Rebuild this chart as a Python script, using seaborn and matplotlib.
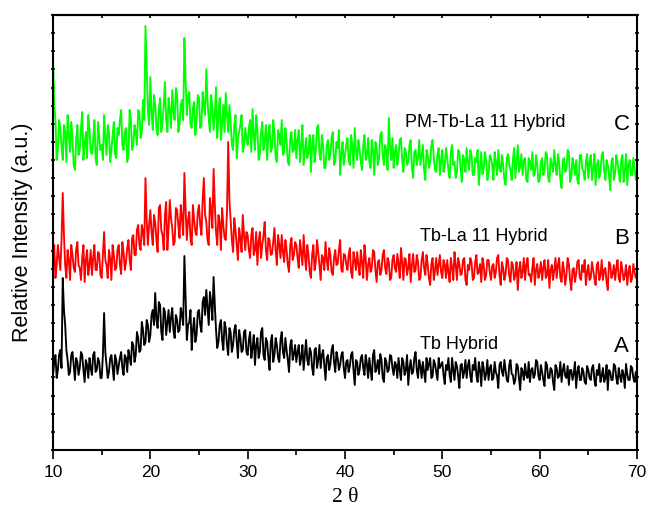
import numpy as np
import pandas as pd
import matplotlib
matplotlib.use("Agg")
import matplotlib.pyplot as plt
from matplotlib.ticker import MultipleLocator
import seaborn as sns

# 2 theta grid: main points every 0.25, extra points read in between (x + 0.125)
two_theta = np.arange(10, 70.001, 0.25)
two_theta_mid = two_theta[:-1] + 0.125

# C : PM-Tb-La 11 Hybrid (green)
int_c = [
    395, 330, 300, 322, 290, 318, 335, 298, 312, 280, 325, 300, 338, 305, 292, 320, 296, 330, 285, 312,
    305, 335, 295, 318, 300, 328, 292, 315, 340, 300, 322, 296, 330, 305, 318, 340, 312, 350, 424, 340,
    373, 320, 345, 315, 352, 328, 368, 318, 340, 360, 330, 355, 325, 350, 412, 335, 358, 322, 348, 330,
    352, 325, 345, 381, 330, 355, 320, 363, 335, 310, 345, 357, 318, 328, 300, 335, 310, 325, 298, 322,
    305, 330, 341, 300, 320, 295, 328, 310, 290, 325, 302, 318, 288, 315, 330, 298, 310, 285, 318, 300,
    292, 320, 305, 285, 312, 298, 278, 315, 300, 325, 290, 305, 282, 310, 296, 318, 288, 302, 275, 308,
    295, 312, 285, 305, 322, 290, 300, 280, 315, 295, 288, 310, 275, 302, 292, 318, 285, 300, 332, 290,
    282, 305, 295, 312, 278, 298, 288, 310, 272, 300, 292, 285, 305, 270, 295, 288, 310, 280, 296, 275,
    300, 285, 292, 272, 305, 288, 278, 298, 268, 290, 302, 280, 295, 275, 288, 265, 298, 282, 290, 276,
    292, 270, 288, 300, 278, 285, 265, 296, 280, 290, 272, 305, 284, 275, 292, 268, 288, 298, 276, 285,
    270, 292, 280, 296, 268, 285, 300, 275, 288, 262, 292, 280, 298, 272, 285, 290, 266, 295, 278, 288,
    272, 295, 282, 265, 290, 278, 298, 270, 285, 260, 292, 276, 288, 268, 295, 280, 265, 290, 275, 282,
    280,
]
int_c_mid = [
    345, 290, 330, 305, 325, 288, 315, 328, 285, 310, 295, 322, 290, 318, 335, 298, 310, 292, 328, 300,
    290, 312, 325, 288, 315, 296, 322, 330, 305, 318, 288, 340, 300, 325, 305, 338, 318, 330, 380, 325,
    338, 355, 322, 340, 318, 345, 330, 352, 322, 338, 362, 318, 345, 330, 370, 352, 325, 342, 315, 355,
    322, 358, 335, 350, 318, 342, 335, 312, 352, 328, 318, 335, 345, 305, 325, 292, 318, 335, 305, 312,
    322, 298, 315, 335, 290, 318, 300, 325, 315, 298, 330, 292, 320, 305, 295, 322, 288, 312, 298, 320,
    310, 288, 325, 298, 292, 315, 305, 288, 322, 296, 315, 282, 305, 290, 312, 285, 308, 320, 296, 285,
    305, 290, 315, 282, 300, 310, 288, 305, 290, 312, 282, 300, 308, 285, 315, 295, 305, 280, 305, 312,
    298, 285, 310, 290, 302, 285, 305, 282, 298, 285, 310, 295, 280, 300, 282, 305, 292, 278, 302, 290,
    278, 302, 280, 298, 285, 272, 300, 282, 295, 278, 288, 300, 275, 292, 300, 282, 276, 298, 270, 295,
    285, 298, 275, 282, 295, 270, 292, 285, 270, 302, 288, 278, 296, 290, 270, 292, 280, 274, 295, 268,
    288, 275, 298, 272, 292, 278, 285, 296, 270, 290, 278, 300, 268, 292, 275, 270, 295, 282, 270, 296,
    288, 270, 296, 285, 272, 295, 280, 290, 275, 288, 270, 295, 278, 290, 268, 296, 285, 275, 292, 270,
]

# B : Tb-La 11 Hybrid (red)
int_b = [
    190, 172, 205, 180, 257, 185, 200, 170, 195, 178, 208, 182, 192, 168, 200, 185, 175, 205, 180, 196,
    172, 218, 185, 200, 170, 195, 182, 205, 176, 198, 188, 210, 180, 215, 195, 225, 200, 218, 272, 205,
    240, 205, 228, 198, 245, 215, 235, 200, 250, 222, 208, 240, 212, 232, 277, 210, 238, 205, 230, 215,
    245, 215, 272, 228, 205, 240, 281, 218, 235, 200, 225, 210, 308, 230, 198, 220, 190, 212, 235, 200,
    215, 192, 222, 200, 185, 218, 205, 228, 190, 210, 196, 222, 185, 205, 215, 188, 200, 178, 212, 195,
    205, 182, 198, 215, 180, 195, 172, 205, 188, 198, 170, 192, 208, 180, 195, 175, 200, 186, 210, 178,
    195, 180, 202, 172, 190, 198, 175, 188, 205, 170, 192, 182, 198, 168, 190, 180, 200, 176, 188, 172,
    195, 178, 186, 202, 170, 190, 182, 168, 196, 180, 188, 172, 198, 175, 185, 165, 192, 180, 175, 195,
    172, 185, 190, 168, 182, 198, 170, 186, 176, 192, 165, 180, 188, 172, 195, 178, 168, 185, 175, 190,
    170, 186, 178, 195, 165, 182, 176, 190, 168, 185, 175, 160, 188, 178, 170, 192, 176, 182, 165, 186,
    178, 170, 190, 175, 162, 185, 180, 172, 192, 168, 180, 175, 186, 160, 182, 176, 190, 170, 178, 165,
    185, 172, 180, 165, 188, 175, 170, 182, 160, 186, 176, 170, 190, 168, 180, 175, 165, 184, 172, 178,
    175,
]
int_b_mid = [
    205, 185, 192, 210, 215, 172, 190, 205, 182, 200, 185, 170, 205, 190, 175, 200, 192, 180, 198, 175,
    195, 190, 172, 192, 205, 180, 200, 185, 208, 180, 202, 190, 212, 195, 220, 205, 225, 205, 230, 225,
    218, 235, 210, 242, 220, 200, 248, 222, 232, 205, 242, 225, 245, 215, 240, 230, 212, 245, 218, 238,
    225, 250, 235, 210, 252, 222, 245, 205, 228, 242, 212, 238, 250, 210, 232, 205, 222, 198, 215, 218,
    200, 215, 195, 218, 208, 192, 215, 200, 212, 195, 208, 200, 215, 192, 198, 210, 185, 205, 190, 208,
    192, 210, 185, 195, 205, 178, 195, 180, 210, 185, 195, 180, 190, 202, 178, 192, 185, 200, 180, 196,
    186, 195, 178, 198, 180, 185, 200, 172, 192, 185, 178, 200, 180, 188, 175, 195, 182, 192, 170, 190,
    182, 196, 172, 188, 192, 175, 196, 185, 178, 195, 170, 190, 182, 195, 172, 186, 170, 192, 185, 178,
    190, 172, 178, 192, 170, 185, 192, 175, 190, 170, 185, 192, 170, 188, 176, 186, 192, 170, 190, 178,
    184, 172, 192, 175, 188, 170, 192, 174, 188, 170, 188, 180, 172, 192, 185, 175, 168, 192, 180, 172,
    188, 182, 172, 190, 180, 170, 192, 185, 172, 188, 165, 192, 170, 180, 168, 188, 172, 185, 190, 178,
    170, 188, 172, 185, 170, 190, 180, 168, 188, 172, 185, 182, 172, 188, 170, 185, 178, 168, 186, 172,
]

# A : Tb Hybrid (black)
int_a = [
    75, 95, 80, 100, 172, 125, 90, 78, 98, 70, 88, 82, 95, 68, 85, 92, 75, 98, 80, 88,
    72, 137, 85, 78, 95, 70, 90, 84, 98, 75, 92, 100, 85, 105, 95, 112, 100, 120, 108, 125,
    115, 140, 157, 122, 145, 110, 138, 128, 118, 142, 112, 130, 120, 135, 194, 110, 128, 100, 132, 115,
    140, 118, 153, 160, 125, 148, 173, 120, 108, 130, 100, 122, 95, 118, 105, 125, 92, 112, 100, 120,
    95, 118, 102, 85, 112, 98, 122, 90, 108, 80, 115, 95, 105, 88, 118, 92, 100, 78, 110, 96,
    88, 105, 92, 80, 110, 85, 98, 75, 102, 90, 82, 100, 70, 95, 86, 105, 78, 92, 85, 98,
    72, 90, 84, 98, 65, 88, 80, 95, 75, 86, 92, 70, 100, 82, 76, 90, 68, 88, 80, 94,
    75, 85, 92, 70, 88, 80, 65, 90, 78, 98, 72, 84, 88, 68, 80, 92, 74, 86, 70, 82,
    88, 66, 80, 75, 92, 70, 84, 62, 86, 78, 72, 90, 68, 80, 75, 88, 64, 82, 76, 70,
    85, 72, 78, 62, 88, 74, 80, 68, 90, 75, 70, 84, 60, 78, 86, 72, 68, 82, 75, 88,
    70, 78, 64, 85, 72, 80, 60, 82, 74, 68, 86, 72, 65, 80, 76, 62, 84, 70, 78, 66,
    80, 70, 85, 64, 75, 68, 82, 72, 60, 78, 70, 84, 66, 74, 80, 62, 76, 70, 82, 68,
    66,
]
int_a_mid = [
    88, 72, 95, 82, 140, 100, 75, 95, 85, 92, 75, 98, 80, 90, 72, 82, 95, 78, 92, 72,
    95, 98, 72, 92, 82, 95, 76, 92, 82, 95, 78, 92, 108, 88, 118, 98, 128, 105, 130, 108,
    135, 125, 130, 148, 118, 142, 115, 140, 132, 120, 135, 118, 142, 125, 150, 125, 140, 120, 108, 138,
    125, 148, 135, 142, 158, 130, 145, 102, 125, 110, 128, 105, 122, 98, 120, 108, 120, 98, 118, 98,
    110, 92, 115, 105, 92, 118, 95, 112, 92, 108, 88, 112, 92, 110, 98, 112, 90, 105, 90, 105,
    98, 85, 105, 95, 90, 102, 82, 100, 82, 105, 95, 85, 92, 80, 100, 88, 98, 80, 95, 82,
    88, 78, 95, 80, 90, 75, 92, 82, 95, 72, 80, 95, 78, 90, 96, 72, 92, 78, 95, 82,
    88, 72, 80, 92, 75, 95, 82, 76, 92, 80, 90, 72, 78, 92, 86, 72, 90, 78, 92, 85,
    75, 85, 92, 68, 80, 88, 74, 85, 72, 90, 84, 74, 85, 92, 68, 80, 88, 70, 90, 82,
    70, 88, 74, 85, 78, 90, 70, 85, 76, 66, 86, 72, 82, 70, 75, 88, 80, 72, 90, 74,
    85, 70, 88, 72, 82, 68, 85, 72, 88, 80, 74, 84, 80, 70, 88, 78, 70, 82, 68, 84,
    72, 82, 70, 80, 86, 74, 68, 85, 80, 70, 86, 72, 82, 68, 75, 86, 70, 84, 72, 78,
]

names = ["PM-Tb-La 11 Hybrid", "Tb-La 11 Hybrid", "Tb Hybrid"]
letters = ["C", "B", "A"]
colors = ["#00ff00", "#ff0000", "#000000"]

sns.set_style("ticks", {"axes.edgecolor": "black", "xtick.color": "black",
                        "ytick.color": "black", "text.color": "black",
                        "axes.labelcolor": "black"})
plt.rcParams["font.family"] = ["Liberation Sans", "DejaVu Sans"]

fig = plt.figure(figsize=(6.48, 5.11), dpi=100)
ax = fig.add_axes([0.0818, 0.1194, 0.9012, 0.8512])

series = [(int_c, int_c_mid), (int_b, int_b_mid), (int_a, int_a_mid)]
for (y, ym), c in zip(series, colors):
    df = pd.DataFrame({"two_theta": np.concatenate([two_theta, two_theta_mid]),
                       "intensity": np.concatenate([y, ym])})
    df = df.sort_values("two_theta")
    sns.lineplot(data=df, x="two_theta", y="intensity", color=c, linewidth=1.35,
                 sort=False, ax=ax)

# labels next to each curve
for name, let, yy in zip(names, letters, [328, 214, 105]):
    ax.text(46.2 if let == "C" else 47.7, yy, name, fontsize=13, va="center", ha="left")
    ax.text(68.4, yy - 2, let, fontsize=16, va="center", ha="center")

ax.set_xlim(10, 70)
ax.set_ylim(0, 435)
ax.xaxis.set_major_locator(MultipleLocator(10))
ax.xaxis.set_minor_locator(MultipleLocator(5))
ax.yaxis.set_major_locator(MultipleLocator(435 / 24))
ax.set_yticklabels([])
ax.tick_params(axis="x", which="major", direction="out", length=6.5, width=1.2, labelsize=12.5, pad=4)
ax.tick_params(axis="x", which="minor", direction="out", length=3.5, width=1.2)
ax.tick_params(axis="y", direction="inout", length=3.5, width=1.2, right=True)

top = ax.secondary_xaxis("top")
top.xaxis.set_major_locator(MultipleLocator(5))
top.tick_params(direction="in", length=2.5, width=1.2, labeltop=False)

for s in ax.spines.values():
    s.set_linewidth(1.5)
top.spines["top"].set_linewidth(1.5)

ax.set_xlabel("2 θ", fontsize=15.5, family=["Liberation Serif", "DejaVu Serif"], labelpad=6)
ax.set_ylabel("Relative Intensity (a.u.)", fontsize=15.5, labelpad=9)

fig.savefig("out.png", dpi=100)
